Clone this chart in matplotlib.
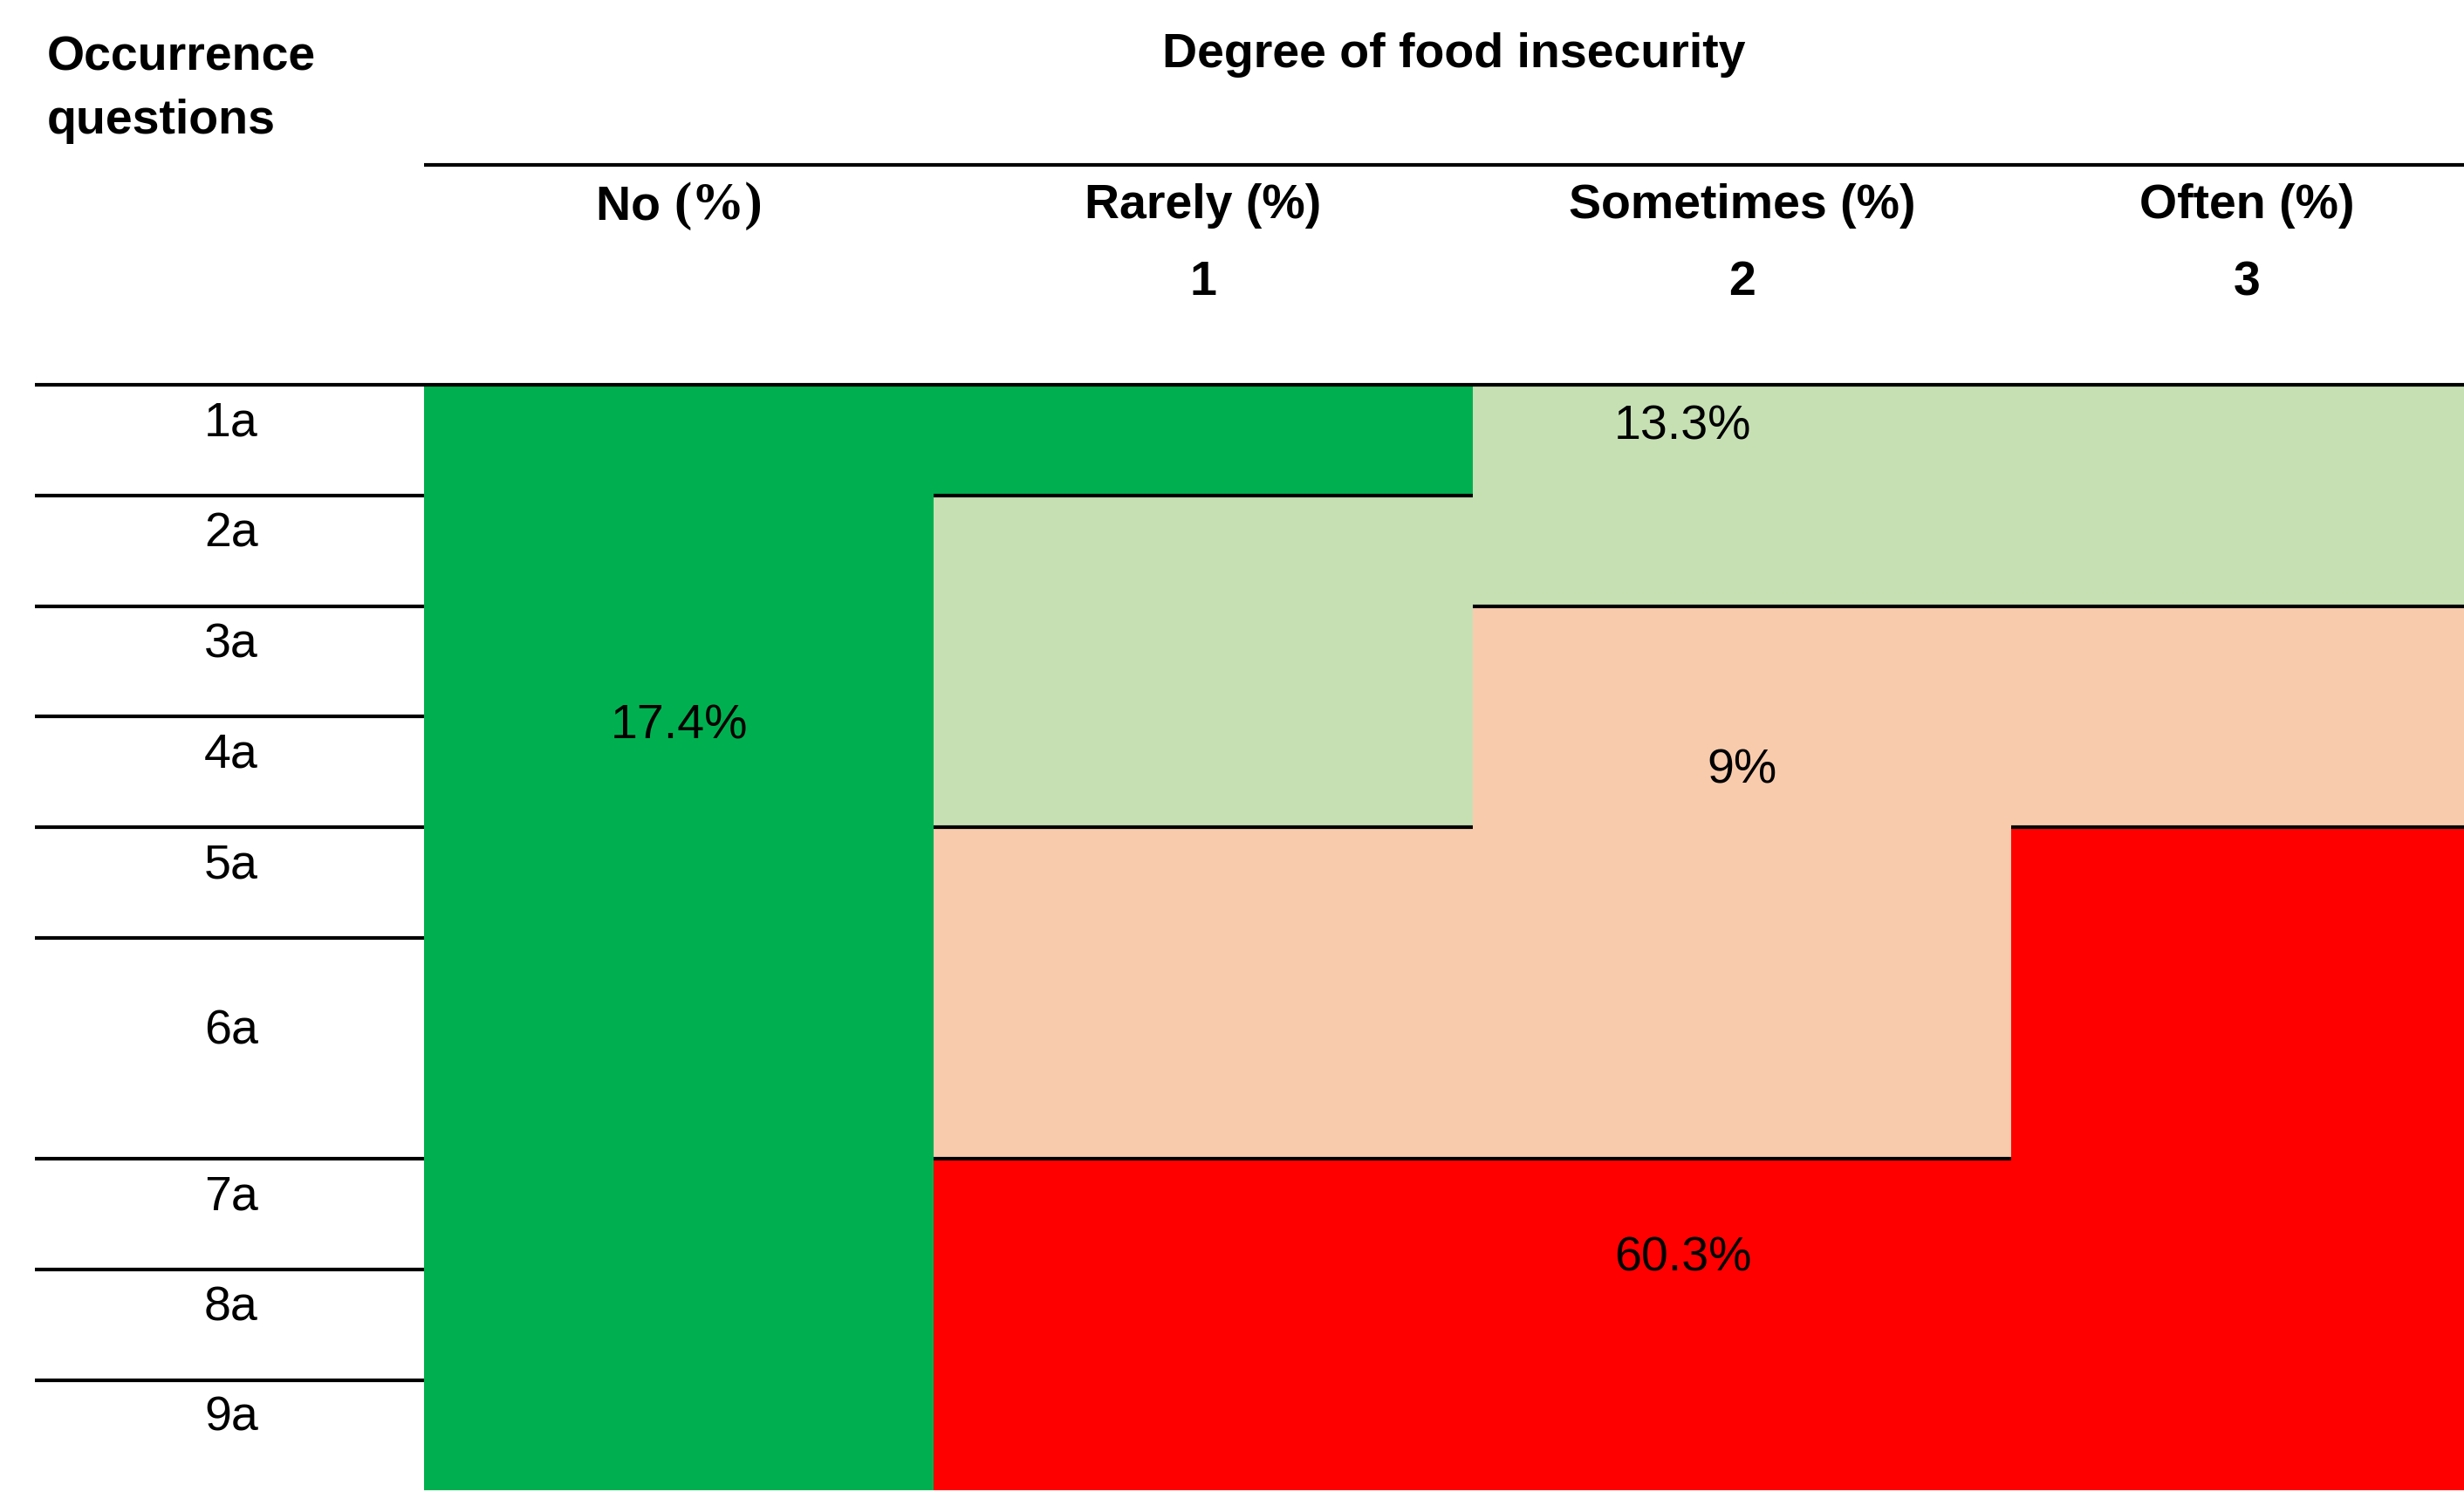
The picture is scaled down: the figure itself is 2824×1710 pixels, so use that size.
"""
Occurrence questions vs degree of food insecurity, drawn as a coloured table.
"""

import numpy as np
import matplotlib.pyplot as plt
from matplotlib.patches import Rectangle
from matplotlib.offsetbox import TextArea, HPacker, AnnotationBbox

# ---- data -------------------------------------------------------------
questions = ["1a", "2a", "3a", "4a", "5a", "6a", "7a", "8a", "9a"]
question_span = [1, 1, 1, 1, 1, 2, 1, 1, 1]       # 6a is a double-height row
answers = ["No", "Rarely (%)", "Sometimes (%)", "Often (%)"]
answer_codes = ["", "1", "2", "3"]

# which insecurity level every (question, answer) cell belongs to
level_grid = [
    [0, 0, 1, 1],
    [0, 1, 1, 1],
    [0, 1, 2, 2],
    [0, 1, 2, 2],
    [0, 2, 2, 3],
    [0, 2, 2, 3],
    [0, 3, 3, 3],
    [0, 3, 3, 3],
    [0, 3, 3, 3],
]
level_share = ["17.4%", "13.3%", "9%", "60.3%"]

# ---- style / layout ---------------------------------------------------
level_colors = ["#00B050", "#C6E0B4", "#F8CBAD", "#FF0000"]
col_widths = [324, 343, 343, 288]          # reference px (1568 wide image)
label_col = [0.5, 2.39, 2.5, 2.39]          # share label anchor, in column units
label_row = [3.09, 0.38, 3.49, 7.9]         # share label anchor, in row units

SANS = ["Liberation Sans", "DejaVu Sans"]
SERIF = ["Liberation Serif", "DejaVu Serif"]
FS = 40
LW = 3

plt.rcParams["font.family"] = SANS

fig = plt.figure(figsize=(28.24, 17.10), dpi=100)
REF_W, REF_H = 1568, 949
row_px = 70.3
n_rows = sum(question_span)
ax = fig.add_axes([270 / REF_W, 1 / REF_H, sum(col_widths) / REF_W, n_rows * row_px / REF_H])
ax.set_xlim(0, sum(col_widths))
ax.set_ylim(n_rows, 0)
ax.axis("off")

col_edges = np.concatenate([[0], np.cumsum(col_widths)])
row_edges = np.concatenate([[0], np.cumsum(question_span)])
grid = np.array(level_grid)

# cells
for i in range(len(questions)):
    for j in range(len(answers)):
        ax.add_patch(Rectangle((col_edges[j], row_edges[i]), col_widths[j], question_span[i],
                               facecolor=level_colors[grid[i, j]], edgecolor="none"))

# horizontal borders between different levels
for i in range(1, len(questions)):
    for j in range(len(answers)):
        if grid[i - 1, j] != grid[i, j]:
            ax.plot([col_edges[j], col_edges[j + 1]], [row_edges[i]] * 2,
                    color="black", lw=LW, clip_on=False, solid_capstyle="butt")

# row label column and its rules
lab_left, lab_mid = -(270 - 22), -(270 - 147)
ax.plot([lab_left, col_edges[-1]], [0, 0], color="black", lw=LW, clip_on=False,
        solid_capstyle="butt")
for i, q in enumerate(questions):
    if i > 0:
        ax.plot([lab_left, 0], [row_edges[i]] * 2, color="black", lw=LW, clip_on=False,
                solid_capstyle="butt")
    y = row_edges[i] + question_span[i] / 2 - 0.15
    ax.text(lab_mid, y, q, ha="center", va="center", fontsize=FS)

# share labels
for k, s in enumerate(level_share):
    c = label_col[k]
    ci = int(c)
    x = col_edges[ci] + (c - ci) * col_widths[ci]
    ax.text(x, label_row[k], s, ha="center", va="center", fontsize=FS)


# header
def ry(y_ref):
    return (y_ref - 245) / row_px


ax.text(30 - 270, ry(57), "Occurrence\nquestions", ha="left", va="center",
        fontsize=FS, fontweight="bold", linespacing=1.5)
ax.text(925 - 270, ry(35), "Degree of food insecurity", ha="center", va="center",
        fontsize=FS, fontweight="bold")
ax.plot([0, col_edges[-1]], [ry(105)] * 2, color="black", lw=LW, clip_on=False,
        solid_capstyle="butt")

centers = (col_edges[:-1] + col_edges[1:]) / 2
centers[-1] = 1430 - 270
for j, name in enumerate(answers):
    if j == 0:
        box = HPacker(children=[
            TextArea("No ", textprops=dict(fontsize=FS, fontweight="bold", family=SANS)),
            TextArea("(%)", textprops=dict(fontsize=FS + 4, fontweight="bold", family=SERIF)),
        ], pad=0, sep=0, align="baseline")
        ab = AnnotationBbox(box, (centers[j], ry(131)), xycoords="data", frameon=False,
                            box_alignment=(0.5, 0.5), annotation_clip=False)
        ax.add_artist(ab)
    else:
        ax.text(centers[j], ry(131), name, ha="center", va="center",
                fontsize=FS, fontweight="bold")
    if answer_codes[j]:
        ax.text(centers[j], ry(180), answer_codes[j], ha="center", va="center",
                fontsize=FS, fontweight="bold")

fig.savefig("out.png", dpi=100, facecolor="white")
